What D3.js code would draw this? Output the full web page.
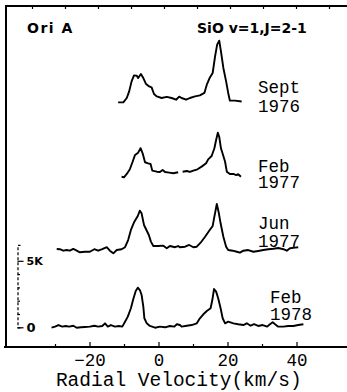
<!DOCTYPE html>
<html>
<head>
<meta charset="utf-8">
<script src="https://cdn.jsdelivr.net/npm/d3@7"></script>
<style>
  html, body { margin: 0; padding: 0; background: #fff; }
  svg { display: block; }
</style>
</head>
<body>
<div id="chart"></div>
<script>
// ---------------------------------------------------------------------------
// SiO v=1, J=2-1 maser spectra of Ori A at four epochs, stacked
// ---------------------------------------------------------------------------

// velocity (km/s) / antenna temperature above each trace's own baseline (K)
const sept1976Vel = [-11.7,-10.2,-9.2,-8.5,-7.8,-7.1,-6.3,-5.9,-5.1,-4.4,-3.6,-2.7,-2.0,-1.3,-0.5,0.9,2.4,3.8,5.1,6.0,6.7,8.0,9.1,10.6,12.0,13.3,14.0,14.9,15.7,16.4,17.0,17.6,18.1,18.8,19.6,20.2,20.7,22.2,24.1];
const sept1976T   = [-0.09,-0.09,0.24,0.74,1.49,1.94,1.92,1.74,2.05,1.74,1.29,1.11,1.04,0.54,0.36,0.24,0.32,0.24,0.11,0.34,0.24,0.11,0.24,0.36,0.44,0.62,1.24,1.79,2.12,3.37,4.25,4.55,3.74,2.50,1.49,0.62,0.04,0.04,-0.02];

// null = gap in the published trace
const feb1977Vel = [-10.7,-10.0,-9.2,-8.3,-7.5,-6.8,-5.9,-5.2,-4.6,-3.9,-3.0,-2.3,-1.8,-0.5,0.4,1.2,1.9,3.1,4.3,5.7,6.4,7.0,8.2,9.1,10.1,11.3,12.5,13.8,14.4,15.4,16.2,16.7,17.2,17.6,18.1,18.8,19.3,19.8,20.7,21.7,22.5,23.1,23.9];
const feb1977T   = [-0.17,-0.21,0.04,0.39,0.96,1.47,1.64,1.98,1.59,0.92,0.84,0.79,0.29,0.21,0.19,0.34,0.19,0.14,0.09,0.17,null,0.21,0.26,0.19,0.29,0.39,0.59,0.84,1.14,1.39,1.97,2.59,3.14,2.84,1.97,1.39,0.96,0.21,0.04,0.04,-0.04,0.02,-0.17];

const jun1977Vel = [-29.5,-28.6,-27.6,-26.6,-25.7,-24.7,-23.7,-22.8,-21.3,-19.9,-18.6,-17.5,-16.3,-15.0,-14.1,-13.1,-12.1,-10.7,-9.7,-8.8,-8.0,-7.0,-6.0,-5.4,-4.9,-4.2,-3.4,-2.8,-2.2,-1.5,-0.1,1.4,2.4,3.3,4.8,5.7,6.2,7.7,8.9,10.1,11.1,12.2,13.5,14.7,15.7,16.2,16.9,17.5,18.0,18.8,19.6,20.2,21.5,22.7,23.6,24.6,26.0,27.5,28.9,30.4,31.8,33.3,34.7,36.2,37.2,38.1,39.6,40.5];
const jun1977T   = [0.04,0.02,-0.09,-0.04,-0.09,0.04,-0.09,-0.21,-0.17,-0.17,0.02,-0.09,0.02,0.17,-0.09,-0.29,-0.04,0.02,0.17,0.71,1.47,2.09,2.52,2.92,2.72,1.84,1.41,1.09,0.59,0.26,0.26,0.29,0.09,0.26,0.17,0.26,0.17,0.21,0.34,0.17,0.21,0.51,0.96,1.41,1.77,2.47,3.42,2.72,1.97,0.96,0.21,-0.04,-0.09,-0.17,-0.24,-0.09,-0.04,-0.17,-0.11,-0.04,0.02,0.06,0.11,0.02,-0.09,0.09,0.14,0.17];

const feb1978Vel = [-31.0,-30.0,-29.0,-27.9,-26.9,-25.9,-24.7,-23.7,-22.5,-21.3,-19.9,-18.6,-17.5,-16.3,-15.5,-14.7,-13.8,-12.6,-11.5,-10.5,-9.7,-8.9,-8.0,-7.3,-6.6,-6.0,-5.4,-4.9,-4.4,-4.1,-3.4,-2.5,-1.0,0.4,1.9,3.3,4.6,5.3,6.2,6.7,8.2,9.6,11.1,12.0,13.0,14.0,15.1,15.6,16.1,16.7,17.3,18.0,18.6,19.3,20.2,21.7,23.1,24.6,25.6,26.7,27.7,28.9,30.2,31.5,32.3,33.1,33.8,34.7,36.2,37.6,39.1,40.5,42.0];
const feb1978T   = [-0.03,0.05,0.17,0.05,0.10,0.05,0.12,-0.03,0.00,0.02,0.05,0.12,0.05,0.10,0.30,0.05,0.17,0.05,0.10,0.05,0.42,0.80,1.43,2.13,2.73,2.98,2.80,2.43,1.55,0.68,0.30,0.10,-0.03,0.05,0.00,0.10,0.05,0.23,0.17,0.05,0.12,0.17,0.30,0.68,0.98,1.23,1.43,2.05,2.88,2.68,2.18,1.43,0.68,0.30,0.42,0.30,0.23,0.17,0.30,0.12,0.23,0.10,0.17,0.05,0.23,0.38,0.23,0.05,0.05,0.10,0.10,0.17,0.23];

const epochMonths = ['Sept', 'Feb', 'Jun', 'Feb'];
const epochYears  = ['1976', '1977', '1977', '1978'];
const baselineK   = [17.0, 11.49, 5.85, 0];   // vertical offset of each trace (K)

const velTicks   = [-30, -20, -10, 0, 10, 20, 30, 40];
const tempTicks  = [0, 1, 2, 3, 4, 5];
const topTicks   = [0, 1, 2, 3, 4, 5, 6, 7, 8, 9];

const series = [
  [sept1976Vel, sept1976T],
  [feb1977Vel, feb1977T],
  [jun1977Vel, jun1977T],
  [feb1978Vel, feb1978T],
];

// ---------------------------------------------------------------------------
const width = 347, height = 392;
const frame = { left: 6, top: 6, bottom: 347 };
const mono = '"Liberation Mono", "DejaVu Sans Mono", monospace';
const sans = '"DejaVu Sans", "Liberation Sans", sans-serif';

// label layout: x in px, baselines in px
const labelLayout = [
  { x: 258, y: [93, 112] },
  { x: 258, y: [172, 188] },
  { x: 258, y: [229, 247] },
  { x: 270, y: [303, 320] },
];

const x = d3.scaleLinear().domain([-30, 40]).range([55, 296.5]);
const y = d3.scaleLinear().domain([0, 5]).range([327.3, 260.8]);

const svg = d3.select('#chart').append('svg')
  .attr('width', width).attr('height', height)
  .attr('viewBox', `0 0 ${width} ${height}`)
  .style('background', '#fff');

// frame: left + top edges, bottom axis line
svg.append('path')
  .attr('d', `M${frame.left},${frame.bottom} V${frame.top} H${width}`)
  .attr('fill', 'none').attr('stroke', '#000').attr('stroke-width', 2);
svg.append('line')
  .attr('x1', 4).attr('x2', width).attr('y1', frame.bottom).attr('y2', frame.bottom)
  .attr('stroke', '#000').attr('stroke-width', 2);

// top edge ticks (independent scale on the original plot)
const xTop = d3.scaleLinear().domain([0, 10]).range([32, 362]);
const topAxis = svg.append('g').attr('transform', `translate(0,${frame.top})`)
  .call(d3.axisTop(xTop).tickValues(topTicks).tickSize(-3).tickFormat(''));
topAxis.select('.domain').remove();
topAxis.selectAll('line').attr('stroke-width', 1.2);

// bottom velocity axis, ticks point up into the plot
const xAxis = svg.append('g').attr('transform', `translate(0,${frame.bottom})`)
  .call(d3.axisBottom(x).tickValues(velTicks).tickSize(-5).tickPadding(7)
    .tickFormat((d) => (d % 20 === 0 ? d3.format('d')(d) : '')));
xAxis.select('.domain').remove();
xAxis.selectAll('.tick line')
  .attr('y2', (d) => (d % 20 === 0 ? -5 : -3))
  .attr('stroke-width', 1.2);
xAxis.selectAll('.tick text')
  .style('font-family', mono).style('font-size', '17.5px').attr('fill', '#000');

svg.append('text')
  .attr('x', (x(-30) + x(40)) / 2 + 3).attr('y', 386)
  .attr('text-anchor', 'middle')
  .style('font-family', mono).style('font-size', '19.5px')
  .text('Radial Velocity(km/s)');

// intensity scale bar at left
const yBar = d3.scaleLinear().domain([0, 6.2]).range([y(0), y(6.2)]);
const bar = svg.append('g').attr('transform', 'translate(17.5,0)')
  .call(d3.axisRight(yBar).tickValues(tempTicks).tickSize(6).tickSizeOuter(3).tickPadding(3)
    .tickFormat((d) => (d === 0 ? '0' : d === 5 ? '5K' : '')));
bar.select('.domain').attr('stroke-dasharray', '3,2').attr('stroke-width', 1.2);
bar.selectAll('.tick line')
  .attr('x2', (d) => (d % 5 === 0 ? 6 : 2.5)).attr('stroke-width', 1.2);
bar.selectAll('.tick text')
  .style('font-family', sans).style('font-weight', 'bold')
  .style('font-size', (d) => (d === 0 ? '13px' : '11px')).attr('fill', '#000');

// spectra
const line = d3.line()
  .defined((d) => d.t != null)
  .x((d) => x(d.v))
  .y((d) => y(d.t + d.off));

series.forEach(([vel, temp], i) => {
  const pts = vel.map((v, j) => ({ v, t: temp[j], off: baselineK[i] }));
  svg.append('path')
    .datum(pts)
    .attr('d', line)
    .attr('fill', 'none').attr('stroke', '#000')
    .attr('stroke-width', 1.9).attr('stroke-linejoin', 'round');

  const lab = labelLayout[i];
  const t = svg.append('text')
    .style('font-family', mono).style('font-size', '17.5px').attr('fill', '#000');
  t.append('tspan').attr('x', lab.x).attr('y', lab.y[0]).text(epochMonths[i]);
  t.append('tspan').attr('x', lab.x).attr('y', lab.y[1]).text(epochYears[i]);
});

// titles
svg.append('text').attr('x', 27).attr('y', 33)
  .style('font-family', sans).style('font-size', '14px').style('font-weight', 'bold')
  .style('letter-spacing', '1.5px').text('Ori A');
svg.append('text').attr('x', 197).attr('y', 33)
  .style('font-family', sans).style('font-size', '14px').style('font-weight', 'bold')
  .text('SiO  v=1,J=2-1');
</script>
</body>
</html>
